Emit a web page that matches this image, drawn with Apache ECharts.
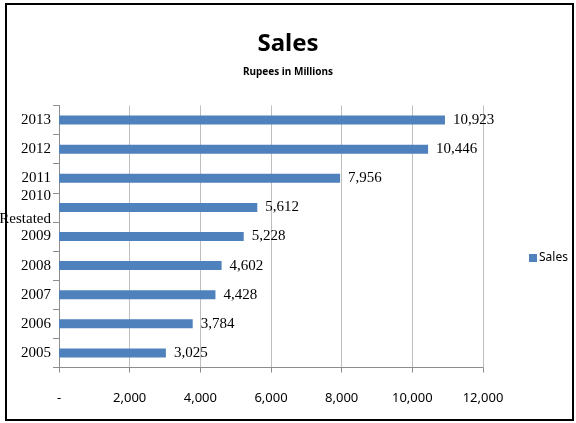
<!DOCTYPE html>
<html><head><meta charset="utf-8">
<script src="https://cdn.jsdelivr.net/npm/echarts@6/dist/echarts.min.js"></script>
<style>html,body{margin:0;padding:0;background:#fff}#c{width:576px;height:423px}</style>
</head><body><div id="c"></div>
<script>
const categories = ['2005','2006','2007','2008','2009','2010\nRestated','2011','2012','2013'];
const salesValues = [3025, 3784, 4428, 4602, 5228, 5612, 7956, 10446, 10923];
const xTicks = [0, 2000, 4000, 6000, 8000, 10000, 12000];

const chart = echarts.init(document.getElementById('c'), null, {renderer:'canvas'});
const fmt = v => v === 0 ? '-' : v.toLocaleString('en-US');
chart.setOption({
  animation:false,
  backgroundColor:'#fff',
  title:{
    text:'Sales', subtext:'Rupees in Millions', left:'center', top:27, itemGap:11,
    textStyle:{fontFamily:'Noto Sans', fontWeight:'bold', fontSize:24, color:'#000'},
    subtextStyle:{fontFamily:'Noto Sans', fontWeight:'bold', fontSize:10, color:'#000'}
  },
  legend:{
    data:['Sales'], left:524, top:247, orient:'vertical', itemWidth:8, itemHeight:8, itemGap:4,
    icon:'rect', textStyle:{fontFamily:'Noto Sans', fontSize:12, color:'#000', padding:[0,0,0,-3]}
  },
  grid:{left:59, right:93, top:105.5, bottom:55.5, containLabel:false, outerBoundsMode:'none'},
  xAxis:{
    type:'value', min:0, max:12000, interval:2000,
    axisLine:{show:true, lineStyle:{color:'#8c8c8c'}},
    axisTick:{show:true, length:5, lineStyle:{color:'#8c8c8c'}},
    splitLine:{show:true, lineStyle:{color:'#bfbfbf', width:1}},
    axisLabel:{formatter:fmt, margin:24, fontFamily:'Noto Sans', fontSize:13, color:'#000'}
  },
  yAxis:{
    type:'category', data:categories,
    axisLine:{show:true, lineStyle:{color:'#8c8c8c'}},
    axisTick:{show:true, length:6, lineStyle:{color:'#8c8c8c'}},
    axisLabel:{fontFamily:'Liberation Serif', fontSize:15, color:'#000', margin:8, lineHeight:23}
  },
  series:[{
    name:'Sales', type:'bar', data:salesValues, barWidth:9,
    itemStyle:{color:'#4f81bd'},
    label:{show:true, position:'right', distance:8, formatter:p=>fmt(p.value),
      fontFamily:'Liberation Serif', fontSize:15, color:'#000'}
  }],
  graphic:[{type:'rect', shape:{x:6, y:4, width:567, height:416},
    style:{fill:null, stroke:'#000', lineWidth:2}, silent:true, z:100}]
});
</script></body></html>
